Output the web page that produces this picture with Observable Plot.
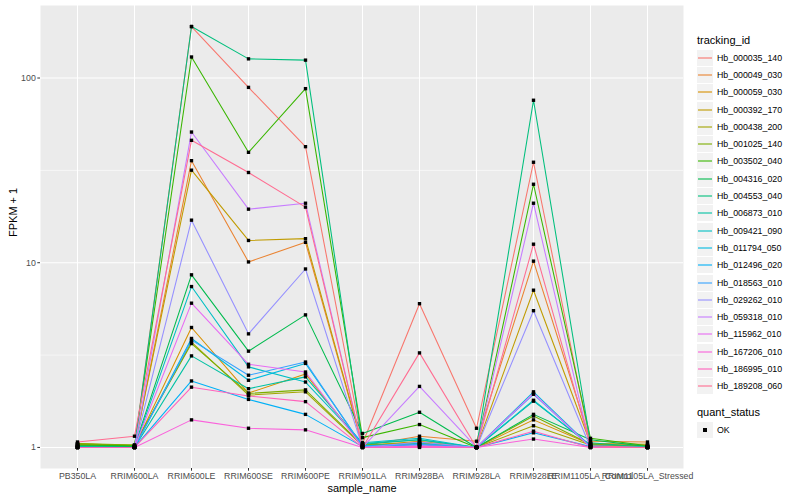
<!DOCTYPE html>
<html>
<head>
<meta charset="utf-8">
<script src="https://cdn.jsdelivr.net/npm/d3@7"></script>
<script src="https://cdn.jsdelivr.net/npm/@observablehq/plot@0.6"></script>
<style>
  html, body { margin: 0; padding: 0; background: white; }
  #wrap { position: relative; width: 800px; height: 500px; font-family: "Liberation Sans", Arial, Helvetica, sans-serif; }
  #legend { position: absolute; left: 697px; top: 32px; color: #000; }
  .ltitle { font-size: 11px; height: 17px; line-height: 17px; }
  .row { display: flex; align-items: center; height: 17.3px; }
  .key { width: 16px; height: 16px; background: #F2F2F2; margin: 0.65px 0; display: flex; align-items: center; justify-content: center; }
  .lab { font-size: 8.8px; margin-left: 4px; white-space: nowrap; }
</style>
</head>
<body>
<div id="wrap"><div id="legend"></div></div>
<script>
// samples (x categories)
const samples = ["PB350LA","RRIM600LA","RRIM600LE","RRIM600SE","RRIM600PE","RRIM901LA","RRIM928BA","RRIM928LA","RRIM928LE","RRIM1105LA_Control","RRIM1105LA_Stressed"];

// series ids and colours
const trackingIds = ["Hb_000035_140","Hb_000049_030","Hb_000059_030","Hb_000392_170","Hb_000438_200","Hb_001025_140","Hb_003502_040","Hb_004316_020","Hb_004553_040","Hb_006873_010","Hb_009421_090","Hb_011794_050","Hb_012496_020","Hb_018563_010","Hb_029262_010","Hb_059318_010","Hb_115962_010","Hb_167206_010","Hb_186995_010","Hb_189208_060"];
const palette = ["#F8766D","#EA8331","#D89000","#C09B00","#A3A500","#7CAE00","#39B600","#00BB4E","#00BF7D","#00C1A3","#00BFC4","#00BAE0","#00B0F6","#35A2FF","#9590FF","#C77CFF","#E76BF3","#FA62DB","#FF62BC","#FF6C91"];

// FPKM + 1 values per series, in sample order
const hb_000035_140 = [1.04, 1.02, 190, 89, 42.5, 1.05, 6.0, 1.27, 35, 1.05, 1.03];
const hb_000049_030 = [1.02, 1.01, 35.7, 10.1, 12.9, 1.02, 1.15, 1.08, 10.2, 1.08, 1.07];
const hb_000059_030 = [1.03, 1.01, 4.46, 1.97, 2.5, 1.02, 1.08, 1.0, 1.41, 1.04, 1.02];
const hb_000392_170 = [1.05, 1.02, 31.7, 13.2, 13.5, 1.03, 1.06, 1.0, 7.1, 1.05, 1.04];
const hb_000438_200 = [1.04, 1.03, 3.72, 1.92, 2.0, 1.02, 1.04, 1.0, 1.31, 1.03, 1.02];
const hb_001025_140 = [1.05, 1.03, 3.65, 1.96, 2.05, 1.03, 1.05, 1.0, 1.48, 1.04, 1.01];
const hb_003502_040 = [1.03, 1.02, 130, 39.6, 87.6, 1.13, 1.33, 1.0, 26.6, 1.12, 1.02];
const hb_004316_020 = [1.02, 1.01, 8.6, 3.32, 5.22, 1.19, 1.55, 1.0, 1.51, 1.1, 1.01];
const hb_004553_040 = [1.01, 1.0, 190, 127, 125, 1.04, 1.1, 1.0, 75.8, 1.06, 1.0];
const hb_006873_010 = [1.01, 1.0, 3.13, 2.08, 2.41, 1.05, 1.1, 1.0, 1.78, 1.03, 1.0];
const hb_009421_090 = [1.0, 1.0, 7.43, 2.73, 2.26, 1.06, 1.12, 1.0, 1.8, 1.02, 1.0];
const hb_011794_050 = [1.0, 1.0, 3.89, 2.31, 2.85, 1.02, 1.05, 1.0, 2.0, 1.01, 1.0];
const hb_012496_020 = [1.0, 1.0, 2.29, 1.82, 1.51, 1.01, 1.03, 1.0, 1.2, 1.01, 1.0];
const hb_018563_010 = [1.0, 1.0, 3.81, 2.46, 2.9, 1.01, 1.04, 1.0, 1.94, 1.01, 1.0];
const hb_029262_010 = [1.0, 1.0, 17, 4.12, 9.25, 1.0, 1.07, 1.0, 5.5, 1.0, 1.0];
const hb_059318_010 = [1.0, 1.0, 51, 19.5, 21, 1.0, 2.14, 1.0, 21, 1.0, 1.0];
const hb_115962_010 = [1.0, 1.0, 6.04, 2.82, 2.56, 1.0, 1.02, 1.0, 1.96, 1.0, 1.0];
const hb_167206_010 = [1.0, 1.0, 1.41, 1.27, 1.245, 1.0, 1.0, 1.0, 1.11, 1.0, 1.0];
const hb_186995_010 = [1.0, 1.0, 2.12, 1.9, 1.77, 1.0, 1.01, 1.0, 1.225, 1.0, 1.0];
const hb_189208_060 = [1.07, 1.15, 46, 30.8, 20, 1.0, 3.25, 1.0, 12.6, 1.02, 1.0];

const yTicks = [1, 10, 100];
const yMinor = [Math.sqrt(10), Math.sqrt(1000)];

const seriesValues = [hb_000035_140, hb_000049_030, hb_000059_030, hb_000392_170, hb_000438_200, hb_001025_140, hb_003502_040, hb_004316_020, hb_004553_040, hb_006873_010, hb_009421_090, hb_011794_050, hb_012496_020, hb_018563_010, hb_029262_010, hb_059318_010, hb_115962_010, hb_167206_010, hb_186995_010, hb_189208_060];

const rows = [];
trackingIds.forEach((id, i) => {
  seriesValues[i].forEach((v, j) => rows.push({tracking_id: id, sample_name: samples[j], value: v, quant_status: "OK"}));
});

const font = '"Liberation Sans", Arial, Helvetica, sans-serif';

const chart = Plot.plot({
  width: 800,
  height: 500,
  marginLeft: 40,
  marginRight: 117,
  marginTop: 5,
  marginBottom: 32,
  style: {fontFamily: font, fontSize: "8.8px", background: "white", overflow: "visible"},
  x: {type: "point", domain: samples, padding: 0.6},
  y: {type: "log", domain: [0.769, 247]},
  color: {domain: trackingIds, range: palette},
  marks: [
    Plot.frame({fill: "#EBEBEB", stroke: null}),
    Plot.ruleY(yMinor, {stroke: "white", strokeWidth: 0.55}),
    Plot.ruleY(yTicks, {stroke: "white", strokeWidth: 1.07}),
    Plot.ruleX(samples, {stroke: "white", strokeWidth: 1.07}),
    Plot.line(rows, {x: "sample_name", y: "value", z: "tracking_id", stroke: "tracking_id", strokeWidth: 1.07}),
    Plot.dot(rows, {x: "sample_name", y: "value", symbol: "square", fill: "black", r: 1.9}),
    Plot.axisX({tickSize: 2.7, tickPadding: 2, stroke: "#333333", fill: "#4D4D4D", fontSize: 8.8, label: null}),
    Plot.axisY({ticks: yTicks, tickFormat: d => String(d), tickSize: 2.7, tickPadding: 2, stroke: "#333333", fill: "#4D4D4D", fontSize: 8.8, label: null}),
    Plot.text(["sample_name"], {text: d => d, frameAnchor: "bottom", dy: 23, fontSize: 11, fill: "black"}),
    Plot.text(["FPKM + 1"], {text: d => d, frameAnchor: "left", dx: -27.5, rotate: -90, fontSize: 11, fill: "black"})
  ]
});

const wrap = document.getElementById("wrap");
wrap.insertBefore(chart, wrap.firstChild);

// legend
const legend = document.getElementById("legend");
const t1 = document.createElement("div");
t1.className = "ltitle"; t1.textContent = "tracking_id";
legend.appendChild(t1);
trackingIds.forEach((id, i) => {
  const r = document.createElement("div"); r.className = "row";
  r.innerHTML = `<div class="key"><svg width="16" height="16"><line x1="1" x2="15" y1="8" y2="8" stroke="${palette[i]}" stroke-width="1.1"/></svg></div><span class="lab">${id}</span>`;
  legend.appendChild(r);
});
const gap = document.createElement("div"); gap.style.height = "9px"; legend.appendChild(gap);
const t2 = document.createElement("div");
t2.className = "ltitle"; t2.textContent = "quant_status";
legend.appendChild(t2);
const r2 = document.createElement("div"); r2.className = "row";
r2.innerHTML = `<div class="key"><svg width="16" height="16"><rect x="6" y="6" width="4" height="4" fill="black"/></svg></div><span class="lab">OK</span>`;
legend.appendChild(r2);
</script>
</body>
</html>
